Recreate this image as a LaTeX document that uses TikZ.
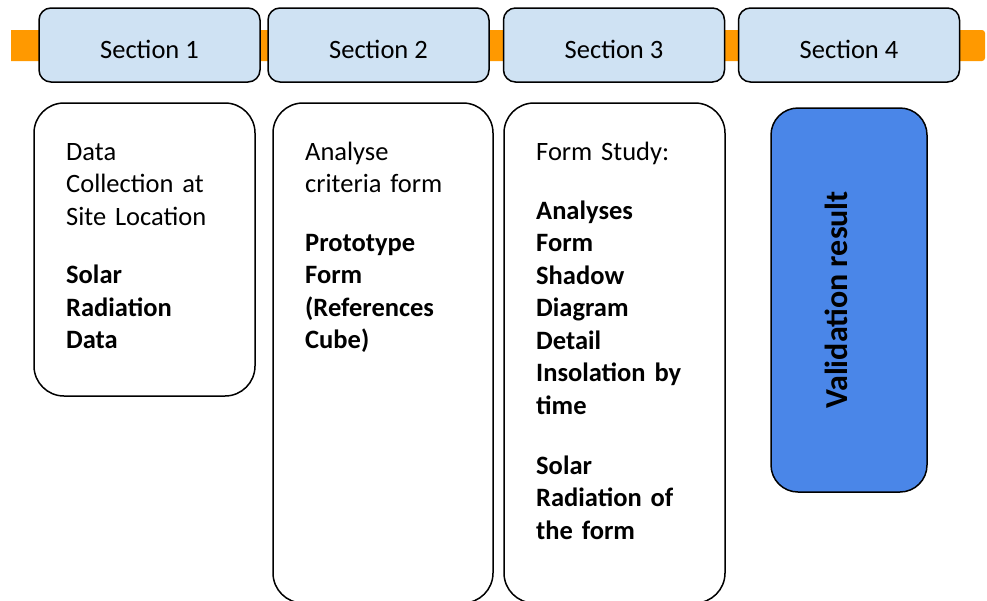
\documentclass[tikz,border=0pt]{standalone}
\usepackage{fontspec}
\setmainfont{Carlito}
\definecolor{hdrfill}{RGB}{207,226,243}
\definecolor{barorange}{RGB}{255,153,0}
\definecolor{valblue}{RGB}{74,134,232}
\begin{document}
\begin{tikzpicture}[x=1pt,y=-1pt,
  hdr/.style={draw=black,line width=1.5pt,fill=hdrfill,rounded corners=12pt,
    minimum width=221pt,minimum height=74pt,inner sep=0pt,
    text height=26pt,text depth=0pt,font=\fontsize{26.5}{32.5}\selectfont},
  card/.style={draw=black,line width=1.5pt,fill=white,rounded corners=30pt,inner sep=0pt},
  body/.style={anchor=base west,align=left,text width=190pt,inner sep=0pt,
    font=\fontsize{26.5}{32.5}\selectfont}
]
\useasboundingbox (0,0) rectangle (987,600);
\clip (0,0) rectangle (987,600);
% orange bar
\fill[barorange] (11,30) -- (982,30) arc[start angle=90,end angle=0,radius=3pt]
  -- (985,58) arc[start angle=0,end angle=-90,radius=3pt] -- (11,61) -- cycle;
% headers
\node[hdr] (h1) at (149.5,45) {Section 1};
\node[hdr] (h2) at (378.5,45) {Section 2};
\node[hdr] (h3) at (614,45) {Section 3};
\node[hdr] (h4) at (849,45) {Section 4};
% cards
\node[card,minimum width=221pt,minimum height=293pt] (c1) at (144.5,249.5) {};
\node[card,minimum width=220pt,minimum height=500pt] (c2) at (383,353) {};
\node[card,minimum width=221pt,minimum height=500pt] (c3) at (614.5,353) {};
\node[card,fill=valblue,rounded corners=27pt,minimum width=156pt,minimum height=384pt] (c4) at (849,300) {};
% texts
\node[body] (b1) at (66,160) {Data\\Collection at\\Site Location\\[26pt]
  \textbf{Solar}\\\textbf{Radiation}\\\textbf{Data}};
\node[body] (b2) at (305,160) {Analyse\\criteria form\\[26pt]
  \textbf{Prototype}\\\textbf{Form}\\\textbf{(References}\\\textbf{Cube)}};
\node[body] (b3) at (536,160) {Form Study:\\[26.5pt]
  \textbf{Analyses}\\\textbf{Form}\\\textbf{Shadow}\\\textbf{Diagram}\\\textbf{Detail}\\\textbf{Insolation by}\\\textbf{time}\\[27.5pt]
  \textbf{Solar}\\\textbf{Radiation of}\\\textbf{the form}};
\node[anchor=base,rotate=90,inner sep=0pt,font=\fontsize{32}{38}\selectfont\bfseries] (v) at (847,300) {Validation result};
\end{tikzpicture}
\end{document}
